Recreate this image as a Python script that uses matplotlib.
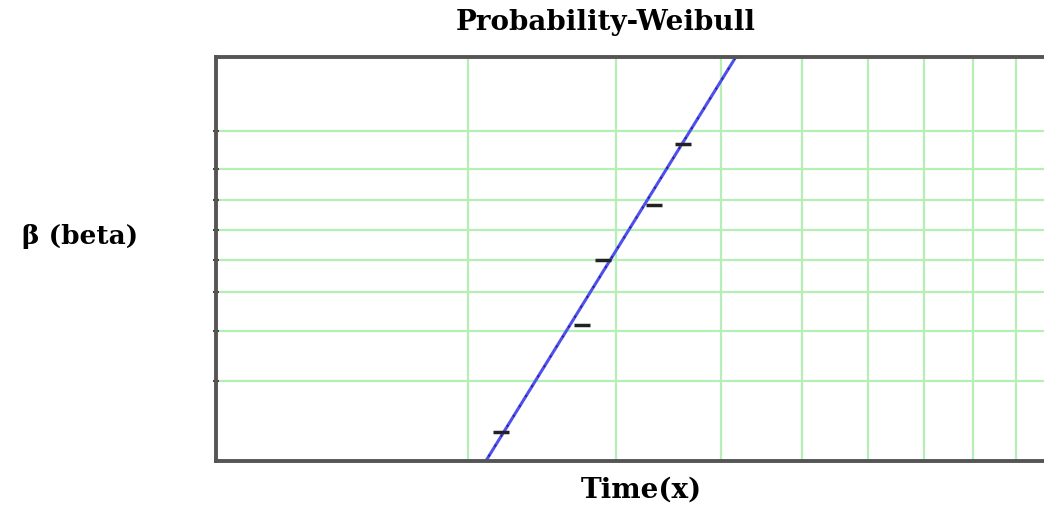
import numpy as np
from matplotlib import pyplot as plt

# failure times and median ranks
times = [2.19, 2.73, 2.90, 3.33, 3.61]
ranks = [0.129, 0.314, 0.500, 0.686, 0.871]

# fitted weibull parameters
beta = 5.5
eta = 3.16

x_grid = [2, 3, 4, 5, 6, 7, 8, 9]
y_grid = [0.2, 0.3, 0.4, 0.5, 0.6, 0.7, 0.8, 0.9]


def fwd(F):
    F = np.clip(F, 1e-12, 1 - 1e-12)
    return np.log(-np.log(1 - F))


def inv(y):
    return 1 - np.exp(-np.exp(y))


fig = plt.figure(figsize=(10.44, 5.06), dpi=100)
ax = fig.add_axes([216 / 1044, 1 - 462 / 506, (1054 - 216) / 1044, (462 - 58) / 506])

ax.set_xscale('log')
ax.set_yscale('function', functions=(fwd, inv))
ax.set_xlim(1, 10)
ax.set_ylim(0.1, 0.99)

ax.set_xticks(x_grid)
ax.set_yticks(y_grid)
ax.xaxis.set_minor_locator(plt.NullLocator())
ax.yaxis.set_minor_locator(plt.NullLocator())
ax.set_xticklabels([])
ax.set_yticklabels([])
ax.tick_params(axis='x', length=0)
ax.tick_params(axis='y', length=5, width=1.5, direction='inout', color='#444444')
ax.grid(True, color='#b5efb5', linewidth=1.6)
ax.set_axisbelow(True)

for side in ['top', 'bottom', 'left']:
    ax.spines[side].set_color('#555555')
    ax.spines[side].set_linewidth(2.8)
ax.spines['right'].set_visible(False)

# fitted line
xx = np.geomspace(1.5, 6, 300)
ff = 1 - np.exp(-(xx / eta) ** beta)
ax.plot(xx, ff, color='#5050ee', linewidth=2.2)
ax.plot(xx, ff, color='#22229a', linewidth=1.4, dashes=(1, 5))

# data points
ax.plot(times, ranks, linestyle='none', marker='_', markersize=11,
        markeredgewidth=2.5, color='#222222')

fig.text(606 / 1044, 1 - 22 / 506, 'Probability-Weibull', ha='center', va='center',
         family='DejaVu Serif', fontweight='bold', fontsize=20)
fig.text(80 / 1044, 1 - 237 / 506, 'β (beta)', ha='center', va='center',
         family='DejaVu Serif', fontweight='bold', fontsize=19)
fig.text(641 / 1044, 1 - 490 / 506, 'Time(x)', ha='center', va='center',
         family='DejaVu Serif', fontweight='bold', fontsize=20)

fig.savefig('out.png', dpi=100)
